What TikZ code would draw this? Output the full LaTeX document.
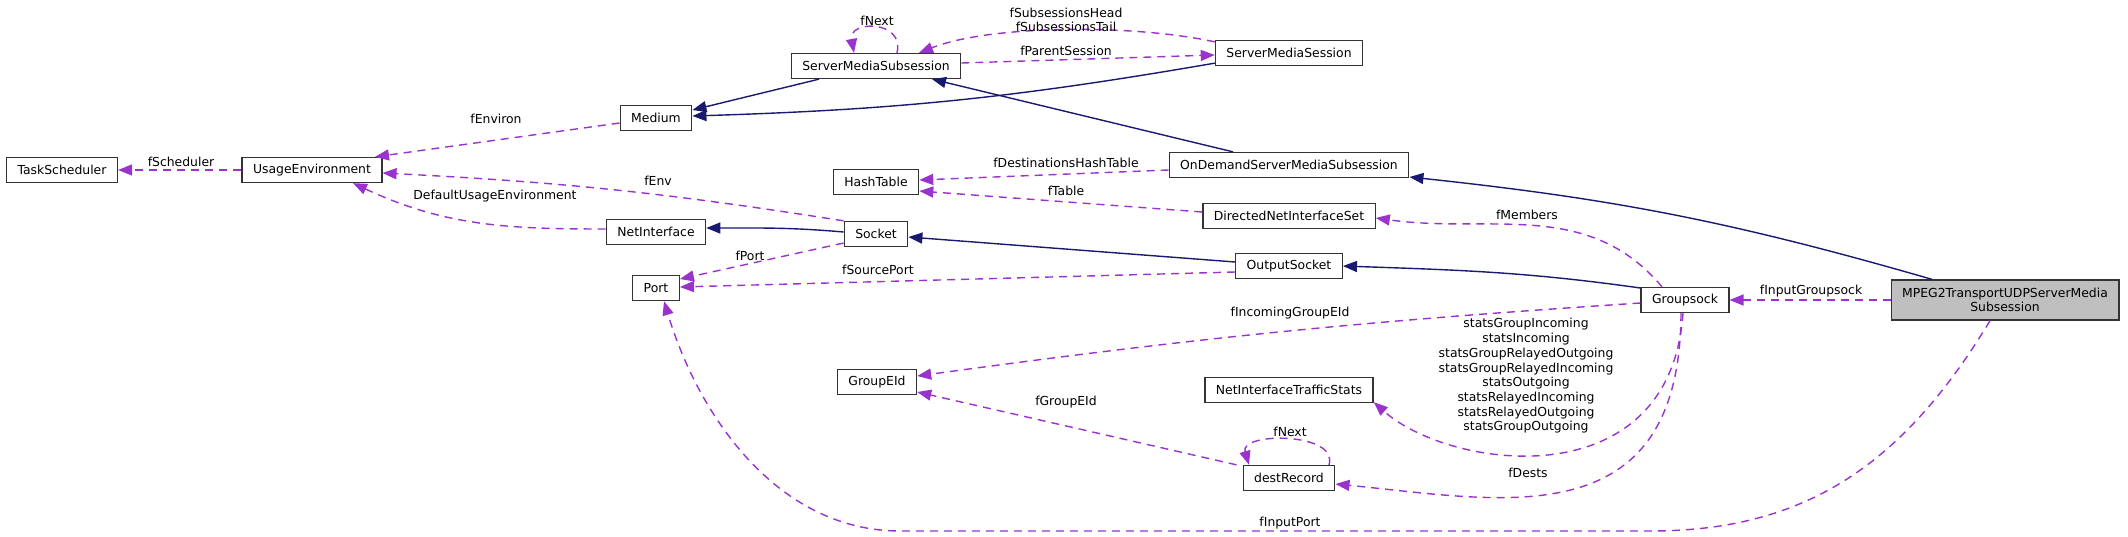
\documentclass[tikz,border=0pt]{standalone}
\usepackage{fontspec}
\setmainfont{DejaVu Sans}
\usetikzlibrary{arrows.meta, positioning}
\definecolor{inhblue}{HTML}{191970}
\definecolor{usepurple}{HTML}{9A32CD}
\tikzstyle{cls} = [rectangle, draw=black!80, line width=1.3pt, fill=white, minimum height=25pt, inner xsep=11pt, inner ysep=0pt, font=\fontsize{12.4}{14.7}\selectfont]
\tikzstyle{mainclass} = [cls, fill=black!25, align=center, minimum height=40pt]
\tikzstyle{inherit} = [line width=1.4pt, draw=inhblue, -{Triangle[length=14pt, width=11pt]}]
\tikzstyle{uses} = [line width=1.4pt, draw=usepurple, dash pattern=on 8pt off 6pt, -{Triangle[length=14pt, width=11pt]}]
\tikzstyle{lbl} = [inner sep=0pt, align=center, font=\fontsize{12.4}{14.7}\selectfont]

\begin{document}
\begin{tikzpicture}[x=1pt, y=-1pt]
   \useasboundingbox (0,0) rectangle (2128,536);
   \node (task) [cls] at (62,170) {TaskScheduler};
   \node (usage) [cls] at (312,170) {UsageEnvironment};
   \node (medium) [cls] at (656,118) {Medium};
   \node (netif) [cls] at (656,232) {NetInterface};
   \node (port) [cls] at (656,288) {Port};
   \node (smsub) [cls] at (876,66) {ServerMediaSubsession};
   \node (hash) [cls] at (876,182) {HashTable};
   \node (socket) [cls] at (876,234) {Socket};
   \node (geid) [cls] at (877,382) {GroupEId};
   \node (sms) [cls] at (1289,53) {ServerMediaSession};
   \node (ondemand) [cls] at (1289,165) {OnDemandServerMediaSubsession};
   \node (dnis) [cls] at (1289,216) {DirectedNetInterfaceSet};
   \node (outsock) [cls] at (1289,266) {OutputSocket};
   \node (nits) [cls] at (1289,390) {NetInterfaceTrafficStats};
   \node (dest) [cls] at (1289,478) {destRecord};
   \node (gsock) [cls] at (1685,300) {Groupsock};
   \node (mpeg) [mainclass] at (2005,300) {MPEG2TransportUDPServerMedia\\Subsession};
   \coordinate (lowr) at (1650,531);
   \coordinate (lowl) at (900,531);

   \draw [inherit] ([xshift=-57pt]smsub.south) -- ([yshift=8pt]medium.east);
   \draw [inherit] ([yshift=3pt]sms.south west) to[bend left=4] ([yshift=2pt]medium.east);
   \draw [inherit] ([xshift=-56pt]ondemand.north) -- ([xshift=56pt]smsub.south);
   \draw [inherit] ([xshift=-73pt]mpeg.north) to[bend right=5] ([yshift=-12pt]ondemand.east);
   \draw [inherit] ([yshift=2pt]socket.west) to[out=175, in=0] ([yshift=4pt]netif.east);
   \draw [inherit] ([yshift=4pt]outsock.west) -- ([yshift=-3pt]socket.east);
   \draw [inherit] ([yshift=12pt]gsock.west) to[out=172, in=-2] (outsock.east);

   \draw [uses] (usage.west) -- (task.east);
   \node (lsched) [lbl] at (181,162) {fScheduler};
   \draw [uses] ([yshift=-5pt]medium.west) -- ([xshift=63pt]usage.north);
   \node (lenviron) [lbl] at (496,119) {fEnviron};
   \draw [uses] (socket.north west) to[bend right=3] ([yshift=-3pt]usage.east);
   \node (lenv) [lbl] at (658,181) {fEnv};
   \draw [uses] ([yshift=3pt]netif.west) to[out=180, in=-25] ([xshift=41pt]usage.south);
   \node (ldefenv) [lbl] at (495,196) {DefaultUsageEnvironment};
   \draw [uses] ([xshift=21pt]smsub.north) .. controls +(8,-33) and +(-6,-33) .. ([xshift=-22pt]smsub.north);
   \node (lnext) [lbl] at (877,21) {fNext};
   \draw [uses] ([yshift=-2pt]sms.north west) .. controls +(-83,-18) and +(71,-28) .. ([xshift=43pt]smsub.north);
   \node (lsubs) [lbl] at (1066,20) {fSubsessionsHead\\fSubsessionsTail};
   \draw [uses] ([yshift=3pt]smsub.east) -- ([yshift=-2pt]sms.west);
   \node (lparent) [lbl] at (1066,51) {fParentSession};
   \draw [uses] ([yshift=-5pt]ondemand.west) -- ([yshift=2pt]hash.east);
   \node (ldesthash) [lbl] at (1066,163) {fDestinationsHashTable};
   \draw [uses] ([yshift=4pt]dnis.west) -- ([yshift=-9pt]hash.east);
   \node (ltable) [lbl] at (1066,191) {fTable};
   \draw [uses] ([xshift=-23pt]gsock.north) to[out=130, in=-8] ([yshift=-2pt]dnis.east);
   \node (lmembers) [lbl] at (1527,215) {fMembers};
   \draw [uses] ([yshift=-9pt]socket.west) -- ([yshift=9pt]port.east);
   \node (lport) [lbl] at (750,256) {fPort};
   \draw [uses] ([yshift=-6pt]outsock.west) -- ([yshift=1pt]port.east);
   \node (lsrcport) [lbl] at (878,270) {fSourcePort};
   \draw [uses] ([xshift=-15pt]mpeg.south) .. controls (1900,470) and (1800,531) .. (lowr) -- (lowl) .. controls (780,531) and (700,420) .. ([xshift=8pt]port.south);
   \node (linport) [lbl] at (1290,523) {fInputPort};
   \draw [uses] ([yshift=-3pt]gsock.west) to[bend right=2] ([yshift=6pt]geid.east);
   \node (lincoming) [lbl] at (1290,313) {fIncomingGroupEId};
   \draw [uses] ([xshift=-6pt]dest.north west) -- ([yshift=-10pt]geid.east);
   \node (lgroupeid) [lbl] at (1066,402) {fGroupEId};
   \draw [uses] ([xshift=-2pt]gsock.south) .. controls (1670,500) and (1450,470) .. ([yshift=1pt]nits.south east);
   \node (lstats) [lbl] at (1526,376) {statsGroupIncoming\\statsIncoming\\statsGroupRelayedOutgoing\\statsGroupRelayedIncoming\\statsOutgoing\\statsRelayedIncoming\\statsRelayedOutgoing\\statsGroupOutgoing};
   \draw [uses] ([xshift=-4pt]gsock.south) .. controls (1680,540) and (1500,500) .. ([yshift=-6pt]dest.east);
   \node (ldests) [lbl] at (1528,473) {fDests};
   \draw [uses] (mpeg.west) -- (gsock.east);
   \node (lingsock) [lbl] at (1811,291) {fInputGroupsock};
   \draw [uses] ([xshift=40pt]dest.north) .. controls +(10,-33) and +(-10,-33) .. ([xshift=-40pt]dest.north);
   \node (lnext2) [lbl] at (1290,432) {fNext};
\end{tikzpicture}
\end{document}
